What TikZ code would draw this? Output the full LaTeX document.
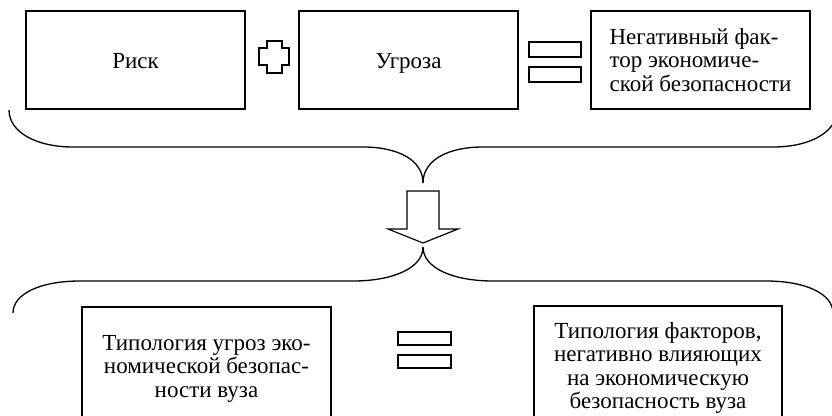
\documentclass[tikz,border=0pt]{standalone}
\usepackage{fontspec}
\setmainfont{Liberation Serif}
\begin{document}
\begin{tikzpicture}[x=1pt,y=-1pt,line width=1.2pt,
  box/.style={draw,rectangle,inner sep=0pt,font=\fontsize{23}{23.5}\selectfont},
  oneline/.style={text height=16pt,text depth=0pt},
  sign/.style={draw,line width=1.2pt},
  bracepath/.style={draw,line width=1.3pt}]
\useasboundingbox (0,0) rectangle (832,415);
\clip (0,0) rectangle (832,415);
% top boxes
\node[box,oneline,minimum width=219pt,minimum height=98pt] (risk) at (135.5,60) {Риск};
\node[box,oneline,minimum width=219pt,minimum height=98pt] (threat) at (408.5,60) {Угроза};
\node[box,minimum width=219pt,minimum height=98pt,align=left] (neg) at (700.5,60)
  {Негативный фак-\\тор экономиче-\\ской безопасности};
% plus sign
\coordinate (plus) at (259,41);
\draw[sign] (267,41) -- (282,41) -- (282,48) -- (289,48) -- (289,65) -- (282,65)
  -- (282,73) -- (267,73) -- (267,65) -- (259,65) -- (259,48) -- (267,48) -- cycle;
% equals top
\draw[sign] (529,42) rectangle (581,57);
\draw[sign] (529,67) rectangle (581,82);
% top brace
\coordinate (tbl) at (9,110);
\coordinate (tbr) at (837,110);
\coordinate (tbm) at (423,183);
\draw[bracepath] (tbl) .. controls (9,132) and (36,147) .. (73,147) -- (363,147)
  .. controls (398,147) and (423,160) .. (tbm);
\draw[bracepath] (tbm) .. controls (423,160) and (448,147) .. (483,147) -- (773,147)
  .. controls (810,147) and (837,132) .. (tbr);
% arrow
\coordinate (arr) at (423,243);
\draw[sign] (407,191) -- (439,191) -- (439,229) -- (458,229) -- (arr) -- (388,229)
  -- (407,229) -- cycle;
% bottom brace
\coordinate (bbl) at (13,313);
\coordinate (bbr) at (833,313);
\coordinate (bbm) at (423,247);
\draw[bracepath] (bbl) .. controls (13,294) and (40,281) .. (80,281) -- (353,281)
  .. controls (393,281) and (423,268) .. (bbm);
\draw[bracepath] (bbm) .. controls (423,268) and (453,281) .. (493,281) -- (766,281)
  .. controls (806,281) and (833,294) .. (bbr);
% bottom boxes
\node[box,minimum width=249pt,minimum height=123pt,align=center] (typthreat) at (206.5,368.5)
  {Типология угроз эко-\\номической безопас-\\ности вуза};
\node[box,minimum width=248pt,minimum height=124pt,align=center] (typfact) at (658,368)
  {Типология факторов,\\негативно влияющих\\на экономическую\\безопасность вуза};
% equals bottom
\draw[sign] (398,332) rectangle (451,345);
\draw[sign] (398,355) rectangle (451,368);
\end{tikzpicture}
\end{document}
